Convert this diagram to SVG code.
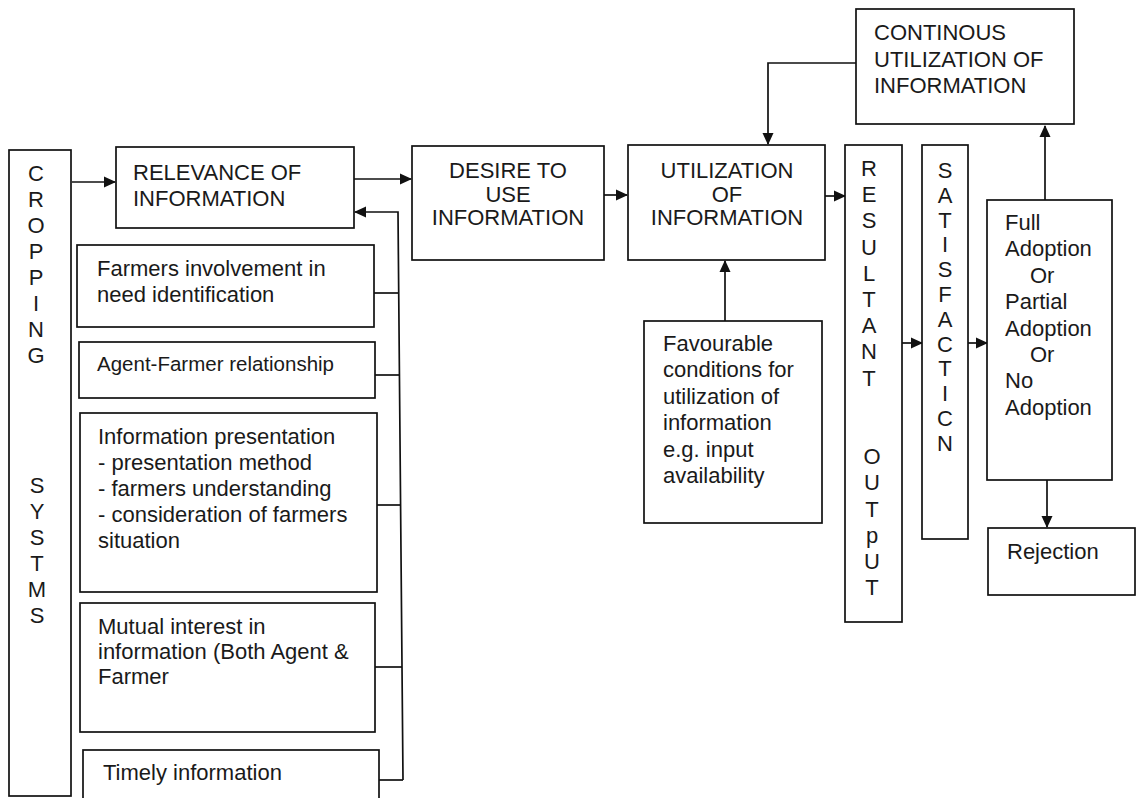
<svg xmlns="http://www.w3.org/2000/svg" width="1139" height="798" viewBox="0 0 1139 798">
<defs>
<style>
.b{fill:#fff;stroke:#111;stroke-width:1.7}
.c{fill:none;stroke:#111;stroke-width:1.7}
text{font-family:"Liberation Sans",Arial,sans-serif;font-size:22px;fill:#1a1a1a}
.m{text-anchor:middle}
</style>
<marker id="ah" markerUnits="userSpaceOnUse" markerWidth="12" markerHeight="12" refX="11" refY="6" orient="auto">
<path d="M0,0.5 L12,6 L0,11.5 z" fill="#111"/>
</marker>
</defs>
<rect width="1139" height="798" fill="#fff"/>

<g id="connectors">
<line class="c" x1="72" y1="182" x2="115" y2="182" marker-end="url(#ah)"/>
<line class="c" x1="354" y1="179" x2="411" y2="179" marker-end="url(#ah)"/>
<line class="c" x1="604" y1="195" x2="627" y2="195" marker-end="url(#ah)"/>
<line class="c" x1="825" y1="196" x2="845" y2="196" marker-end="url(#ah)"/>
<line class="c" x1="902" y1="343" x2="922" y2="343" marker-end="url(#ah)"/>
<line class="c" x1="968" y1="343" x2="987" y2="343" marker-end="url(#ah)"/>
<line class="c" x1="1045" y1="200" x2="1045" y2="126" marker-end="url(#ah)"/>
<line class="c" x1="1047" y1="480" x2="1047" y2="527" marker-end="url(#ah)"/>
<path class="c" d="M856,63 H768 V144" marker-end="url(#ah)"/>
<line class="c" x1="725" y1="321" x2="725" y2="261" marker-end="url(#ah)"/>
<path class="c" d="M403,780 L398,212 H355" marker-end="url(#ah)"/>
<line class="c" x1="374" y1="293" x2="398" y2="293"/>
<line class="c" x1="375" y1="375" x2="399" y2="375"/>
<line class="c" x1="377" y1="505" x2="401" y2="505"/>
<line class="c" x1="375" y1="667" x2="402" y2="667"/>
<line class="c" x1="379" y1="780" x2="403" y2="780"/>
</g>

<g id="cropping">
<rect class="b" x="9" y="150" width="62" height="646"/>
<text class="m" x="36"><tspan x="36" y="181">C</tspan><tspan x="36" y="207">R</tspan><tspan x="36" y="233">O</tspan><tspan x="36" y="259">P</tspan><tspan x="36" y="285">P</tspan><tspan x="36" y="311">I</tspan><tspan x="36" y="337">N</tspan><tspan x="36" y="363">G</tspan><tspan x="37" y="493">S</tspan><tspan x="37" y="519">Y</tspan><tspan x="37" y="545">S</tspan><tspan x="37" y="571">T</tspan><tspan x="37" y="597">M</tspan><tspan x="37" y="623">S</tspan></text>
</g>

<g id="relevance">
<rect class="b" x="116" y="147" width="238" height="81"/>
<text><tspan x="133" y="180">RELEVANCE OF</tspan><tspan x="133" y="206">INFORMATION</tspan></text>
</g>

<g id="farmers-involvement">
<rect class="b" x="77" y="245" width="297" height="82"/>
<text><tspan x="97" y="276">Farmers involvement in</tspan><tspan x="97" y="302">need identification</tspan></text>
</g>

<g id="agent-farmer">
<rect class="b" x="79" y="342" width="296" height="56"/>
<text style="font-size:20.5px"><tspan x="97" y="371">Agent-Farmer relationship</tspan></text>
</g>

<g id="info-presentation">
<rect class="b" x="80" y="413" width="297" height="179"/>
<text><tspan x="98" y="444">Information presentation</tspan><tspan x="98" y="470">- presentation method</tspan><tspan x="98" y="496">- farmers understanding</tspan><tspan x="98" y="522">- consideration of farmers</tspan><tspan x="98" y="548">situation</tspan></text>
</g>

<g id="mutual-interest">
<rect class="b" x="80" y="603" width="295" height="129"/>
<text><tspan x="98" y="634">Mutual interest in</tspan><tspan x="98" y="659">information (Both Agent &amp;</tspan><tspan x="98" y="684">Farmer</tspan></text>
</g>

<g id="timely">
<rect class="b" x="83" y="750" width="296" height="70"/>
<text><tspan x="103" y="780">Timely information</tspan></text>
</g>

<g id="desire">
<rect class="b" x="412" y="146" width="192" height="114"/>
<text class="m"><tspan x="508" y="178">DESIRE TO</tspan><tspan x="508" y="201.5">USE</tspan><tspan x="508" y="225">INFORMATION</tspan></text>
</g>

<g id="utilization">
<rect class="b" x="628" y="145" width="197" height="115"/>
<text class="m"><tspan x="727" y="178">UTILIZATION</tspan><tspan x="727" y="201.5">OF</tspan><tspan x="727" y="225">INFORMATION</tspan></text>
</g>

<g id="favourable">
<rect class="b" x="644" y="321" width="178" height="202"/>
<text><tspan x="663" y="351">Favourable</tspan><tspan x="663" y="377.4">conditions for</tspan><tspan x="663" y="403.8">utilization of</tspan><tspan x="663" y="430.2">information</tspan><tspan x="663" y="456.6">e.g. input</tspan><tspan x="663" y="483">availability</tspan></text>
</g>

<g id="continous">
<rect class="b" x="856" y="9" width="218" height="115"/>
<text><tspan x="874" y="40">CONTINOUS</tspan><tspan x="874" y="66.5">UTILIZATION OF</tspan><tspan x="874" y="93">INFORMATION</tspan></text>
</g>

<g id="resultant-output">
<rect class="b" x="845" y="145" width="57" height="477"/>
<text class="m"><tspan x="869" y="176">R</tspan><tspan x="869" y="202.2">E</tspan><tspan x="869" y="228.4">S</tspan><tspan x="869" y="254.6">U</tspan><tspan x="869" y="280.8">L</tspan><tspan x="869" y="307">T</tspan><tspan x="869" y="333.2">A</tspan><tspan x="869" y="359.4">N</tspan><tspan x="869" y="385.6">T</tspan><tspan x="872" y="464.2">O</tspan><tspan x="872" y="490.4">U</tspan><tspan x="872" y="516.6">T</tspan><tspan x="872" y="542.8">p</tspan><tspan x="872" y="569">U</tspan><tspan x="872" y="595.2">T</tspan></text>
</g>

<g id="satisfaction">
<rect class="b" x="922" y="145" width="46" height="394"/>
<text class="m"><tspan x="945" y="178">S</tspan><tspan x="945" y="202.8">A</tspan><tspan x="945" y="227.6">T</tspan><tspan x="945" y="252.4">I</tspan><tspan x="945" y="277.2">S</tspan><tspan x="945" y="302">F</tspan><tspan x="945" y="326.8">A</tspan><tspan x="945" y="351.6">C</tspan><tspan x="945" y="376.4">T</tspan><tspan x="945" y="401.2">I</tspan><tspan x="945" y="426">C</tspan><tspan x="945" y="450.8">N</tspan></text>
</g>

<g id="adoption">
<rect class="b" x="987" y="200" width="125" height="280"/>
<text><tspan x="1005" y="230">Full</tspan><tspan x="1005" y="256.4">Adoption</tspan><tspan x="1030" y="282.8">Or</tspan><tspan x="1005" y="309.2">Partial</tspan><tspan x="1005" y="335.6">Adoption</tspan><tspan x="1030" y="362">Or</tspan><tspan x="1005" y="388.4">No</tspan><tspan x="1005" y="414.8">Adoption</tspan></text>
</g>

<g id="rejection">
<rect class="b" x="988" y="528" width="147" height="67"/>
<text><tspan x="1007" y="559">Rejection</tspan></text>
</g>
</svg>
